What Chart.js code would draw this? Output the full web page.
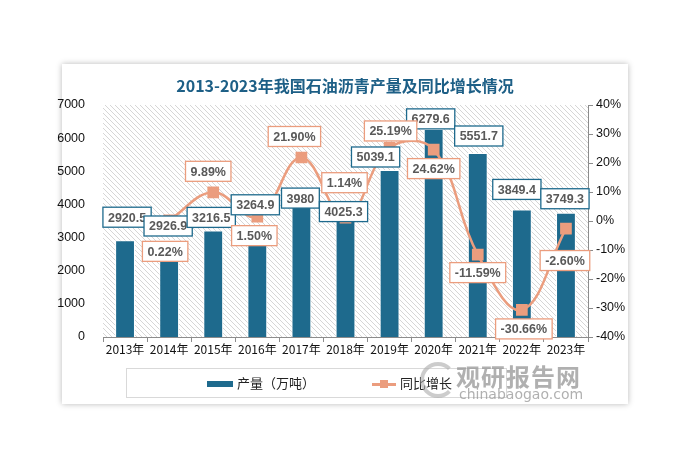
<!DOCTYPE html>
<html>
<head>
<meta charset="utf-8">
<script src="https://cdn.jsdelivr.net/npm/chart.js@4.4.1/dist/chart.umd.min.js"></script>
<style>
  html, body { margin: 0; padding: 0; background: #fff; }
  body { width: 694px; height: 465px; position: relative; overflow: hidden;
         font-family: "Noto Sans CJK SC", "Noto Sans", sans-serif; }
  #card { position: absolute; left: 62px; top: 64px; width: 566px; height: 340px;
          background: #fff; box-shadow: 0 0 6px rgba(0,0,0,0.28); }
  #wrap { position: absolute; left: 0; top: 0; width: 694px; height: 465px; }
  #title { position: absolute; left: 62px; width: 566px; top: 73px; text-align: center;
           font: bold 16px "Noto Sans CJK SC", sans-serif; color: #1d5f86; }
  #legend { position: absolute; left: 126px; top: 368px; width: 379px; height: 28px;
            border: 1px solid #d9d9d9; font-size: 13px; color: #222; }
  .item { position: absolute; top: 5px; height: 18px; line-height: 18px; }
  .wm1 { position: absolute; left: 456px; top: 358px; font: bold 24px "Noto Sans CJK SC", sans-serif;
         color: rgba(150,150,150,0.75); letter-spacing: 1px; }
  .wm2 { position: absolute; left: 459px; top: 386px; font: 14px "DejaVu Sans", sans-serif;
         color: rgba(150,150,150,0.75); }
  .logo { position: absolute; left: 420px; top: 362px; width: 28px; height: 28px; border-radius: 50%;
          border: 4px solid rgba(170,170,170,0.6); border-right-color: transparent; }
</style>
</head>
<body>
<div id="card"></div>
<div id="wrap"><canvas id="myChart" width="694" height="465"></canvas></div>
<div id="title">2013-2023年我国石油沥青产量及同比增长情况</div>
<div id="legend">
  <div class="item" style="left:80px;"><span style="display:inline-block;width:26px;height:6px;background:#1e6a8d;vertical-align:middle;margin-right:4px;"></span>产量（万吨）</div>
  <div class="item" style="left:245px;"><span style="display:inline-block;position:relative;width:24px;height:18px;vertical-align:middle;margin-right:4px;"><span style="position:absolute;left:0;top:8px;width:24px;height:2.5px;background:#eb9d7e;"></span><span style="position:absolute;left:8px;top:5px;width:8px;height:8px;background:#eb9d7e;"></span></span>同比增长</div>
</div>
<div class="logo"></div>
<div class="wm1">观研报告网</div>
<div class="wm2">chinabaogao.com</div>
<script>
var years = ["2013年", "2014年", "2015年", "2016年", "2017年", "2018年", "2019年", "2020年", "2021年", "2022年", "2023年"];
var output = [2920.5, 2926.9, 3216.5, 3264.9, 3980, 4025.3, 5039.1, 6279.6, 5551.7, 3849.4, 3749.3];
var growth = [null, 0.22, 9.89, 1.50, 21.90, 1.14, 25.19, 24.62, -11.59, -30.66, -2.60];
var leftTicks = [0, 1000, 2000, 3000, 4000, 5000, 6000, 7000];
var rightTicks = [-40, -30, -20, -10, 0, 10, 20, 30, 40];

var BLUE = "#1e6a8d";
var ORANGE = "#eb9d7e";

// label box offsets (px) from each mark, placed by hand like the excel original
var barLabelOffset = [[2, -23], [-1, -14], [-2, -13], [-2, -24], [-1, -7], [-2, 8], [-14, -13], [-3, -10], [1, -17], [-5, -20], [-1, -14]];
var lineLabelOffset = [null, [-4, 31], [-5, -21], [-3, 19], [-7, -21], [-1, -35], [1, -17], [0, 19], [0, 18], [2, 19], [-1, 32]];

var hatch = {
  id: "hatch",
  beforeDraw: function (chart) {
    var a = chart.chartArea, c = chart.ctx;
    var p = document.createElement("canvas");
    p.width = 5; p.height = 5;
    var pc = p.getContext("2d");
    pc.strokeStyle = "#d6d6d6";
    pc.lineWidth = 1;
    pc.beginPath();
    pc.moveTo(-1, -1); pc.lineTo(6, 6);
    pc.moveTo(-1, 4); pc.lineTo(1, 6);
    pc.moveTo(4, -1); pc.lineTo(6, 1);
    pc.stroke();
    c.save();
    c.fillStyle = c.createPattern(p, "repeat");
    c.fillRect(a.left, a.top, a.right - a.left, a.bottom - a.top);
    c.restore();
  }
};

function box(c, text, x, y, border) {
  c.font = "bold 12.5px 'Liberation Sans', Arial, sans-serif";
  var w = c.measureText(text).width + 10, h = 20;
  c.fillStyle = "#fff";
  c.fillRect(x - w / 2, y - h / 2, w, h);
  c.strokeStyle = border;
  c.lineWidth = 1.3;
  c.strokeRect(x - w / 2, y - h / 2, w, h);
  c.fillStyle = "#595959";
  c.textAlign = "center";
  c.textBaseline = "middle";
  c.fillText(text, x, y + 1);
}

var labels = {
  id: "labels",
  afterDatasetsDraw: function (chart) {
    var c = chart.ctx;
    c.save();
    var bars = chart.getDatasetMeta(1).data;
    bars.forEach(function (el, i) {
      var o = barLabelOffset[i];
      box(c, String(output[i]), el.x + o[0], el.y + o[1], BLUE);
    });
    var pts = chart.getDatasetMeta(0).data;
    pts.forEach(function (el, i) {
      if (growth[i] === null) return;
      var o = lineLabelOffset[i];
      box(c, growth[i].toFixed(2) + "%", el.x + o[0], el.y + o[1], ORANGE);
    });
    c.restore();
  }
};

var ctx = document.getElementById("myChart").getContext("2d");
var chart = new Chart(ctx, {
  data: {
    labels: years,
    datasets: [
      {
        type: "line",
        label: "同比增长",
        data: growth,
        yAxisID: "y1",
        borderColor: ORANGE,
        backgroundColor: ORANGE,
        borderWidth: 2.5,
        tension: 0.4,
        pointStyle: "rect",
        pointRadius: 6.5,
        pointHoverRadius: 6.5,
        order: 0
      },
      {
        type: "bar",
        label: "产量（万吨）",
        data: output,
        yAxisID: "y",
        backgroundColor: BLUE,
        borderColor: "#ffffff",
        borderWidth: 1,
        barPercentage: 0.45,
        categoryPercentage: 1,
        order: 1
      }
    ]
  },
  options: {
    responsive: false,
    animation: false,
    layout: { padding: { left: 56, right: 58, top: 105, bottom: 98 } },
    plugins: {
      legend: { display: false },
      title: { display: false },
      tooltip: { enabled: false }
    },
    scales: {
      x: {
        grid: { offset: true, drawOnChartArea: false, tickLength: 5, color: "#8c8c8c" },
        border: { color: "#8c8c8c" },
        ticks: { color: "#111", font: { size: 12, family: "'Noto Sans CJK SC'" }, padding: 0, maxRotation: 0 },
        afterFit: function (s) { s.height = 30; }
      },
      y: {
        position: "left",
        min: 0, max: 7000,
        afterBuildTicks: function (s) { s.ticks = leftTicks.map(function (v) { return { value: v }; }); },
        grid: { display: false },
        border: { display: false },
        ticks: { color: "#111", font: { size: 12.5, family: "'Liberation Sans'" }, padding: 10,
                 callback: function (v) { return String(v); } },
        afterFit: function (s) { s.width = 47; }
      },
      y1: {
        position: "right",
        min: -40, max: 40,
        afterBuildTicks: function (s) { s.ticks = rightTicks.map(function (v) { return { value: v }; }); },
        grid: { drawOnChartArea: false, tickLength: 5, color: "#8c8c8c" },
        border: { color: "#8c8c8c" },
        ticks: { color: "#111", font: { size: 12.5, family: "'Liberation Sans'" }, padding: 3,
                 callback: function (v) { return v + "%"; } },
        afterFit: function (s) { s.width = 48; }
      }
    }
  },
  plugins: [hatch, labels]
});
</script>
</body>
</html>
